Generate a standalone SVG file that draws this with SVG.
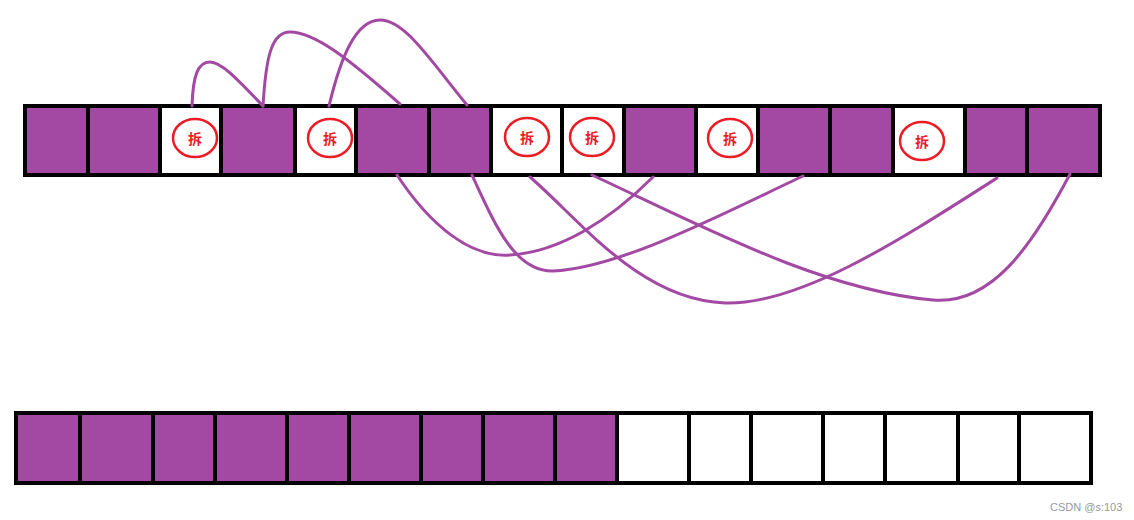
<svg xmlns="http://www.w3.org/2000/svg" width="1134" height="520" viewBox="0 0 1134 520">
<style>
.p{fill:#A349A4;stroke:#000;stroke-width:4}
.w{fill:#fff;stroke:#000;stroke-width:4}
.c{fill:none;stroke:#ED1C24;stroke-width:2.5}
.t{font-family:"Noto Sans CJK SC","Noto Sans CJK JP",sans-serif;font-size:14px;font-weight:bold;fill:#ED1C24;text-anchor:middle;dominant-baseline:central}
.a{fill:none;stroke:#A349A4;stroke-width:3;stroke-linecap:round}
</style>
<rect width="1134" height="520" fill="#fff"/>
<g id="top-row">
<g id="t1"><rect class="p" x="25" y="106" width="63" height="69"/></g>
<g id="t2"><rect class="p" x="88" y="106" width="72" height="69"/></g>
<g id="t3"><rect class="w" x="160" y="106" width="61" height="69"/><ellipse class="c" cx="195" cy="138" rx="22" ry="19"/><text class="t" x="195" y="138">拆</text></g>
<g id="t4"><rect class="p" x="221" y="106" width="74" height="69"/></g>
<g id="t5"><rect class="w" x="295" y="106" width="61" height="69"/><ellipse class="c" cx="330" cy="138" rx="22" ry="19"/><text class="t" x="330" y="138">拆</text></g>
<g id="t6"><rect class="p" x="356" y="106" width="73" height="69"/></g>
<g id="t7"><rect class="p" x="429" y="106" width="62" height="69"/></g>
<g id="t8"><rect class="w" x="491" y="106" width="71" height="69"/><ellipse class="c" cx="527" cy="137" rx="22" ry="19"/><text class="t" x="527" y="137">拆</text></g>
<g id="t9"><rect class="w" x="562" y="106" width="62" height="69"/><ellipse class="c" cx="592" cy="137" rx="22" ry="19"/><text class="t" x="592" y="137">拆</text></g>
<g id="t10"><rect class="p" x="624" y="106" width="72" height="69"/></g>
<g id="t11"><rect class="w" x="696" y="106" width="62" height="69"/><ellipse class="c" cx="730" cy="138" rx="22" ry="19"/><text class="t" x="730" y="138">拆</text></g>
<g id="t12"><rect class="p" x="758" y="106" width="72" height="69"/></g>
<g id="t13"><rect class="p" x="830" y="106" width="63" height="69"/></g>
<g id="t14"><rect class="w" x="893" y="106" width="72" height="69"/><ellipse class="c" cx="922" cy="141" rx="22" ry="19"/><text class="t" x="922" y="141">拆</text></g>
<g id="t15"><rect class="p" x="965" y="106" width="62" height="69"/></g>
<g id="t16"><rect class="p" x="1027" y="106" width="73" height="69"/></g>
</g>
<g id="bottom-row">
<g id="b1"><rect class="p" x="16" y="413" width="64" height="70"/></g>
<g id="b2"><rect class="p" x="80" y="413" width="73" height="70"/></g>
<g id="b3"><rect class="p" x="153" y="413" width="62" height="70"/></g>
<g id="b4"><rect class="p" x="215" y="413" width="72" height="70"/></g>
<g id="b5"><rect class="p" x="287" y="413" width="62" height="70"/></g>
<g id="b6"><rect class="p" x="349" y="413" width="72" height="70"/></g>
<g id="b7"><rect class="p" x="421" y="413" width="62" height="70"/></g>
<g id="b8"><rect class="p" x="483" y="413" width="72" height="70"/></g>
<g id="b9"><rect class="p" x="555" y="413" width="62" height="70"/></g>
<g id="b10"><rect class="w" x="617" y="413" width="72" height="70"/></g>
<g id="b11"><rect class="w" x="689" y="413" width="62" height="70"/></g>
<g id="b12"><rect class="w" x="751" y="413" width="72" height="70"/></g>
<g id="b13"><rect class="w" x="823" y="413" width="62" height="70"/></g>
<g id="b14"><rect class="w" x="885" y="413" width="73" height="70"/></g>
<g id="b15"><rect class="w" x="958" y="413" width="61" height="70"/></g>
<g id="b16"><rect class="w" x="1019" y="413" width="72" height="70"/></g>
</g>
<g id="connectors">
<path class="a" d="M192,106 C193,75 198,62 210,62 C222,62 240,82 263,106"/>
<path class="a" d="M263,106 C266,55 272,32 290,32 C315,32 350,60 400,104"/>
<path class="a" d="M329,106 C340,60 355,20 380,20 C405,20 430,60 467,105"/>
<path class="a" d="M397,175 C430,225 470,258 510,255 C560,252 610,220 653,177"/>
<path class="a" d="M472,175 C495,225 515,272 553,271 C620,268 720,215 803,176"/>
<path class="a" d="M530,177 C580,220 640,300 725,303 C800,305 900,240 997,178"/>
<path class="a" d="M592,175 C700,225 820,290 933,300 C990,305 1030,250 1070,174"/>
</g>
<text x="1050" y="511" font-family="Liberation Sans, Arial, sans-serif" font-size="11" fill="#999">CSDN @s:103</text>
</svg>
